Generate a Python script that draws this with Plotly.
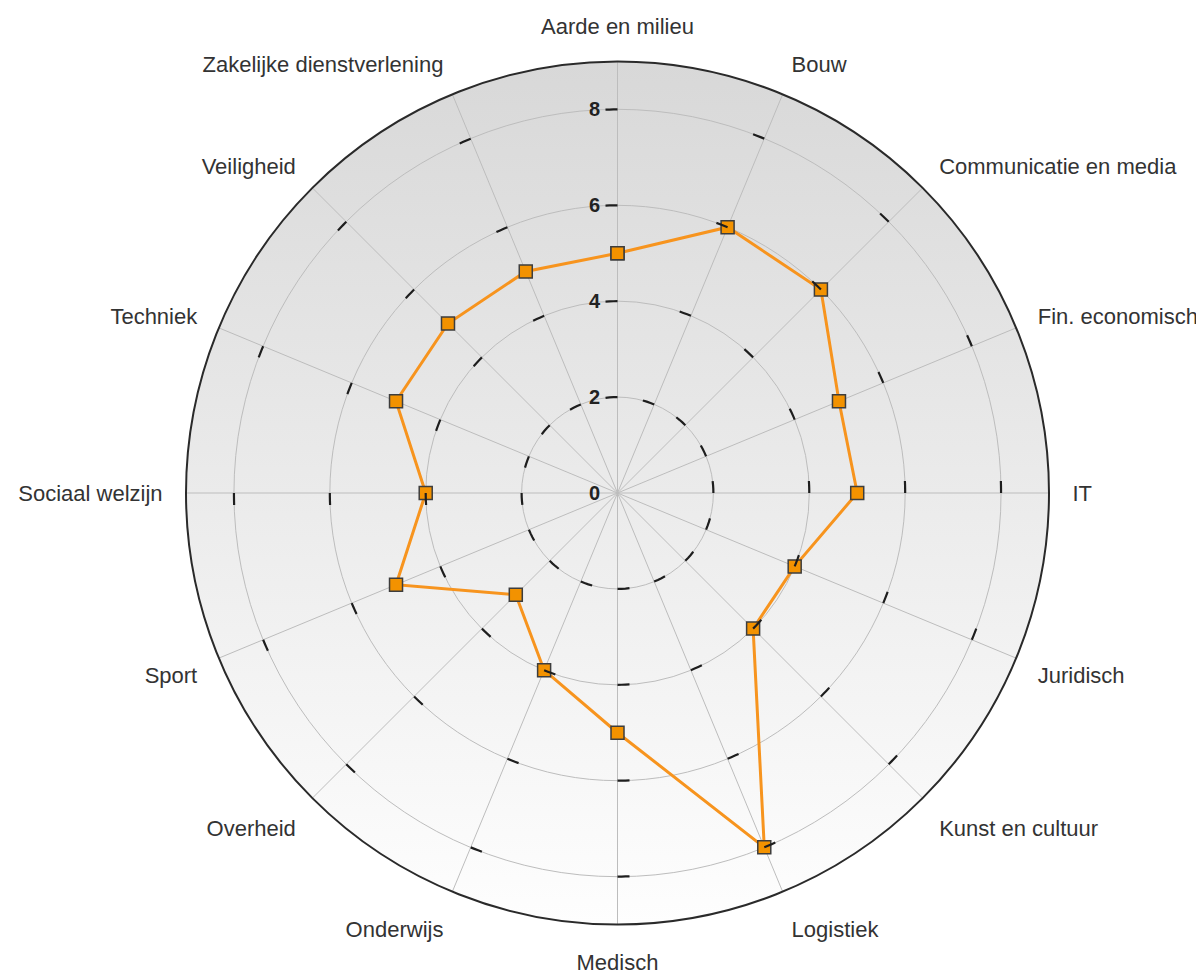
import base64
import math
import plotly.graph_objects as go

categories = ["Aarde en milieu", "Bouw", "Communicatie en media", "Fin. economisch", "IT",
              "Juridisch", "Kunst en cultuur", "Logistiek", "Medisch", "Onderwijs", "Overheid",
              "Sport", "Sociaal welzijn", "Techniek", "Veiligheid", "Zakelijke dienstverlening"]
values = [5, 6, 6, 5, 5, 4, 4, 8, 5, 4, 3, 5, 4, 5, 5, 5]
radial_ticks = [0, 2, 4, 6, 8]
radial_max = 9

W, H = 1204, 972
# page body has an 8px margin, so target centre is shifted accordingly
cx, cy, R = 609.5, 485.0, 431.5

step = 360.0 / len(categories)
thetas = [i * step for i in range(len(categories))]

# polar domain in paper coordinates
dx0, dx1 = (cx - R) / W, (cx + R) / W
dy0, dy1 = 1 - (cy + R) / H, 1 - (cy - R) / H

# per-spoke tick marks (short arcs on the counterclockwise side of each spoke)
px_per_unit = R / radial_max
tick_len_px = 12
tr, tt = [], []
for th in thetas:
    for rv in radial_ticks[1:]:
        d = math.degrees(tick_len_px / (px_per_unit * rv))
        for k in range(4):
            tr.append(rv)
            tt.append(th - d * k / 3)
        tr.append(None)
        tt.append(None)

fig = go.Figure()

fig.add_trace(go.Scatterpolar(
    r=values + values[:1],
    theta=thetas + thetas[:1],
    mode="lines+markers",
    line=dict(color="#f7941e", width=3),
    marker=dict(symbol="square", size=13, color="#f39200",
                line=dict(color="#3d3d3d", width=1.5)),
    hoverinfo="skip",
    showlegend=False,
))

fig.add_trace(go.Scatterpolar(
    r=tr, theta=tt, mode="lines",
    line=dict(color="#1e1e1e", width=2.2),
    connectgaps=False,
    hoverinfo="skip",
    showlegend=False,
))

svg = ('<svg xmlns="http://www.w3.org/2000/svg" width="200" height="200">'
       '<defs><linearGradient id="g" x1="0" y1="0" x2="0" y2="1">'
       '<stop offset="0" stop-color="#d8d8d8"/><stop offset="1" stop-color="#fefefe"/>'
       '</linearGradient></defs><circle cx="100" cy="100" r="100" fill="url(#g)"/></svg>')
src = "data:image/svg+xml;base64," + base64.b64encode(svg.encode()).decode()

fig.update_layout(
    width=W, height=H,
    margin=dict(l=0, r=0, t=0, b=0),
    paper_bgcolor="white",
    showlegend=False,
    images=[dict(source=src, xref="paper", yref="paper", x=dx0, y=dy1,
                 sizex=dx1 - dx0, sizey=dy1 - dy0, xanchor="left", yanchor="top",
                 sizing="stretch", layer="below")],
    polar=dict(
        domain=dict(x=[dx0, dx1], y=[dy0, dy1]),
        bgcolor="rgba(0,0,0,0)",
        radialaxis=dict(
            range=[0, radial_max], tickvals=radial_ticks, angle=90, tickangle=90,
            side="counterclockwise", showline=False,
            ticks="outside", ticklen=10, tickcolor="rgba(0,0,0,0)",
            tickfont=dict(family="Liberation Sans, Arial, sans-serif", size=20,
                          color="#222222", weight="bold"),
            gridcolor="#bdbdbd", gridwidth=1,
        ),
        angularaxis=dict(
            type="linear", direction="clockwise", rotation=90,
            tickmode="array", tickvals=thetas, ticktext=categories,
            ticks="outside", ticklen=18, tickcolor="rgba(0,0,0,0)",
            tickfont=dict(family="Liberation Sans, Arial, sans-serif", size=22, color="#333333"),
            showline=True, linecolor="#2a2a2a", linewidth=2,
            gridcolor="#bdbdbd", gridwidth=1,
        ),
    ),
)

fig.write_html("out.html")
